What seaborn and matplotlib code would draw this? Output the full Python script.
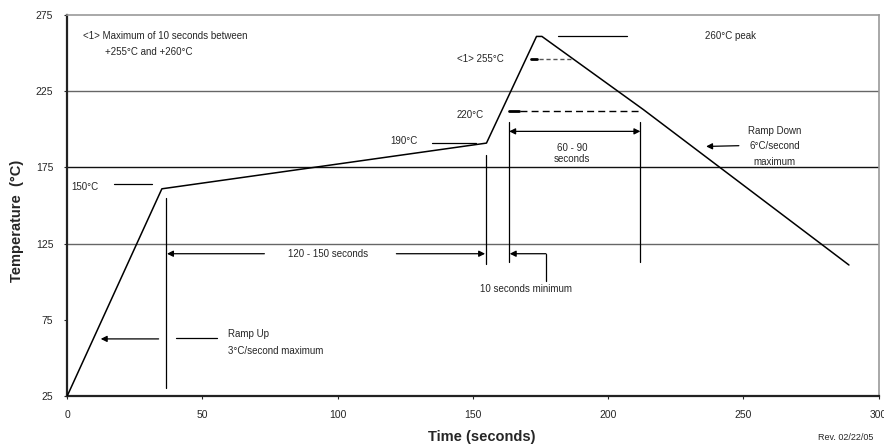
import matplotlib
matplotlib.use("Agg")
import matplotlib.pyplot as plt
import seaborn as sns
import pandas as pd

# reflow profile
time_s = [0, 35, 155, 173.5, 175.5, 213, 289]
temp_c = [25, 161, 191, 261, 261, 213, 111]

x_ticks = [0, 50, 100, 150, 200, 250, 300]
y_ticks = [25, 75, 125, 175, 225, 275]
grid_y = [125, 175, 225]
grid_colors = ['#666666', '#111111', '#666666']

df = pd.DataFrame({'Time': time_s, 'Temp': temp_c})

sns.set_style('white')
plt.rcParams['font.family'] = ['Liberation Sans Narrow', 'Liberation Sans', 'DejaVu Sans']

fig = plt.figure(figsize=(8.84, 4.44), dpi=100)
ax = fig.add_axes([0.076, 0.108, 0.918, 0.858])

for gy, gc in zip(grid_y, grid_colors):
    ax.axhline(gy, color=gc, lw=1.0, zorder=1)

sns.lineplot(x='Time', y='Temp', data=df, color='black', lw=1.1, ax=ax, zorder=3)

ax.set_xlim(0, 300)
ax.set_ylim(25, 275)
ax.set_xticks(x_ticks)
ax.set_yticks(y_ticks)
ax.tick_params(axis='both', labelsize=7.5, length=2, width=0.8, direction='out')
ax.tick_params(axis='x', pad=8)
ax.tick_params(axis='y', pad=8)
ax.xaxis.set_ticks_position('bottom')
ax.yaxis.set_ticks_position('left')

for side in ['left', 'bottom']:
    ax.spines[side].set_color('#222222')
    ax.spines[side].set_linewidth(1.6)
for side in ['top', 'right']:
    ax.spines[side].set_color('#999999')
    ax.spines[side].set_linewidth(1.2)

ax.set_xlabel('')
ax.set_ylabel('')
fig.text(482 / 884, 1 - 437 / 444, 'Time (seconds)', fontsize=10.5, fontweight='bold',
         ha='center', va='center')
fig.text(17 / 884, 1 - 221 / 444, 'Temperature  (°C)', fontsize=10.5, fontweight='bold',
         rotation=90, ha='center', va='center')
fig.text(846 / 884, 1 - 437 / 444, 'Rev. 02/22/05', fontsize=6.5, ha='center', va='center')

fs = 7
k = dict(color='black', lw=0.9)
arr = dict(arrowstyle='-|>', color='black', lw=0.9, mutation_scale=9, shrinkA=0, shrinkB=0)

# note top-left
ax.text(5.7, 261, '<1> Maximum of 10 seconds between', fontsize=fs, va='center')
ax.text(13.8, 250.5, '+255°C and +260°C', fontsize=fs, va='center')

# 150
ax.text(1.5, 162.5, '150°C', fontsize=fs, va='center')
ax.plot([17.2, 31.5], [164, 164], **k)
# 190
ax.text(119.5, 192.5, '190°C', fontsize=fs, va='center')
ax.plot([135, 151], [191, 191], **k)
# 220
ax.text(144, 209.5, '220°C', fontsize=fs, va='center')
ax.plot([163.4, 167], [212, 212], color='black', lw=2)
ax.plot([167.5, 211.8], [212, 212], color='black', lw=1, ls=(0, (5, 3)))
# 255
ax.text(144, 246, '<1> 255°C', fontsize=fs, va='center')
ax.plot([171.5, 173.8], [246, 246], color='black', lw=2)
ax.plot([174.5, 186.5], [246, 246], color='#555555', lw=1, ls=(0, (3, 2)))
# 260 peak
ax.plot([181.5, 207], [261.2, 261.2], **k)
ax.text(235.7, 261.2, '260°C peak', fontsize=fs, va='center')

# vertical markers
ax.plot([36.7, 36.7], [30.3, 155], **k)
ax.plot([154.7, 154.7], [111.8, 183.5], **k)
ax.plot([163.4, 163.4], [113, 204.6], **k)
ax.plot([211.9, 211.9], [113, 204.6], **k)

# 120 - 150 seconds
ax.annotate('', xy=(36.9, 118.4), xytext=(72.9, 118.4), arrowprops=arr)
ax.text(96.6, 118.4, '120 - 150 seconds', fontsize=fs, ha='center', va='center')
ax.annotate('', xy=(154.5, 118.4), xytext=(121.7, 118.4), arrowprops=arr)

# 10 seconds minimum
ax.annotate('', xy=(163.6, 118.4), xytext=(177, 118.4), arrowprops=arr)
ax.plot([177, 177], [118.4, 100.7], **k)
ax.text(169.5, 95, '10 seconds minimum', fontsize=fs, ha='center', va='center')

# 60 - 90 seconds
ax.annotate('', xy=(163.4, 198.7), xytext=(211.9, 198.7),
            arrowprops=dict(arrowstyle='<|-|>', color='black', lw=0.9, mutation_scale=9,
                            shrinkA=0, shrinkB=0))
ax.text(186.7, 187.5, '60 - 90', fontsize=fs, ha='center', va='center')
ax.text(186.7, 180.3, 'seconds', fontsize=fs, ha='center', va='center')

# ramp up
ax.annotate('', xy=(12.4, 62.5), xytext=(33.8, 62.5), arrowprops=arr)
ax.plot([40.4, 55.2], [62.8, 62.8], **k)
ax.text(59.6, 65.5, 'Ramp Up', fontsize=fs, va='center')
ax.text(59.6, 54.5, '3°C/second maximum', fontsize=fs, va='center')

# ramp down
ax.annotate('', xy=(236.2, 188.8), xytext=(248.3, 189.3), arrowprops=arr)
ax.text(261.6, 199, 'Ramp Down', fontsize=fs, ha='center', va='center')
ax.text(261.6, 188.8, '6°C/second', fontsize=fs, ha='center', va='center')
ax.text(261.6, 178.8, 'maximum', fontsize=fs, ha='center', va='center')

fig.savefig('out.png', dpi=100)
